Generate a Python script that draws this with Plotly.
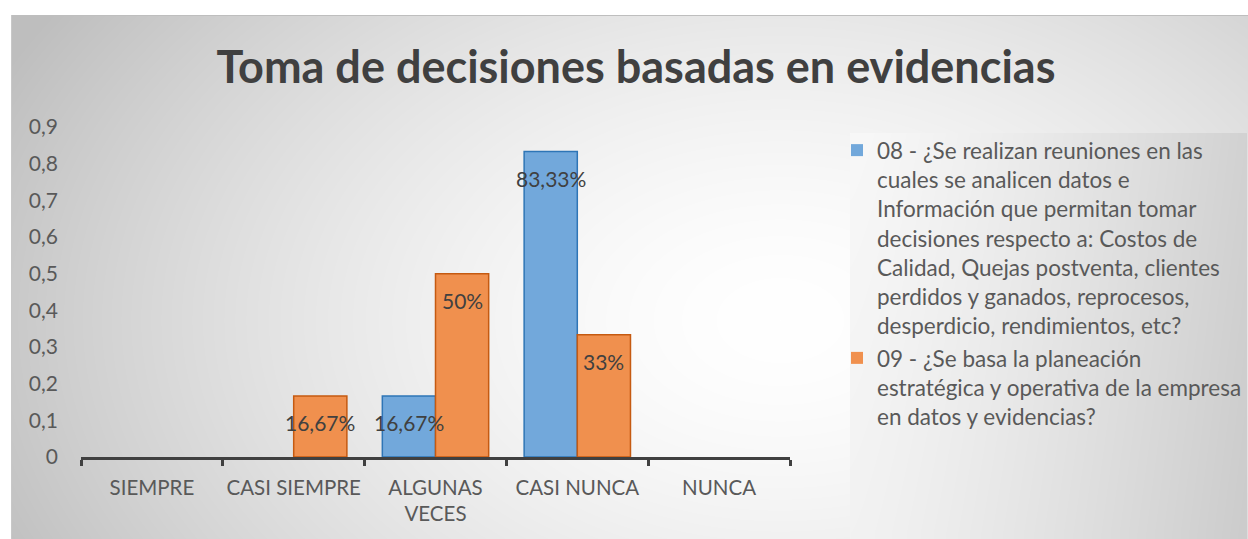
import base64, struct, zlib
import numpy as np
import plotly.graph_objects as go

# ---------------- data ----------------
categories = ["SIEMPRE", "CASI SIEMPRE", "ALGUNAS<br>VECES", "CASI NUNCA", "NUNCA"]
serie_08 = [0, 0, 0.1667, 0.8333, 0]
serie_09 = [0, 0.1667, 0.5, 0.3333, 0]
labels_08 = ["", "", "16,67%", "83,33%", ""]
labels_09 = ["", "16,67%", "50%", "33%", ""]
name_08 = ("08 - ¿Se realizan reuniones en las<br>cuales se analicen datos e<br>"
           "Información que permitan tomar<br>decisiones respecto a: Costos de<br>"
           "Calidad, Quejas postventa, clientes<br>perdidos y ganados, reprocesos,<br>"
           "desperdicio, rendimientos, etc?")
name_09 = ("09 - ¿Se basa la planeación<br>estratégica y operativa de la empresa<br>"
           "en datos y evidencias?")
title_text = "Toma de decisiones basadas en evidencias"
y_ticks = [0, 0.1, 0.2, 0.3, 0.4, 0.5, 0.6, 0.7, 0.8, 0.9]

W, H = 1248, 539
L, R, T, B = 81, 458, 127, 82
PW, PH = W - L - R, H - T - B

# ---------------- background gradient (PNG) ----------------
X0, Y0 = 11, 15
iw, ih = W - X0, H - Y0
xs = np.arange(X0, W)[None, :].astype(float)
ys = np.arange(Y0, H)[:, None].astype(float)
d = np.sqrt(((xs - 780) / 780) ** 2 + ((ys - 320) / 520) ** 2)
d = np.clip(d, 0, 1.1)
img = 255 - 55 * (d ** 1.6)
# legend box
lx0, ly0, lx1 = 850, 133, 1246
mask = (xs >= lx0) & (xs <= lx1) & (ys >= ly0)
t = np.clip((xs - lx0) / (lx1 - lx0), 0, 1)
leg = 248 - 38 * (t ** 1.3) - 6 * np.clip((ys - ly0) / 400, 0, 1)
img = np.where(mask, leg, img)
img = np.clip(img, 0, 255).astype(np.uint8)
img[0, :] = 190
img[:, 0] = 200

def png_gray(a):
    h, w = a.shape
    raw = b"".join(b"\x00" + a[i].tobytes() for i in range(h))
    def chunk(tag, data):
        c = struct.pack(">I", len(data)) + tag + data
        return c + struct.pack(">I", zlib.crc32(tag + data) & 0xffffffff)
    return (b"\x89PNG\r\n\x1a\n" + chunk(b"IHDR", struct.pack(">IIBBBBB", w, h, 8, 0, 0, 0, 0))
            + chunk(b"IDAT", zlib.compress(raw, 9)) + chunk(b"IEND", b""))

src = "data:image/png;base64," + base64.b64encode(png_gray(img)).decode()

# ---------------- figure ----------------
FONT = "Lato"
fig = go.Figure()
fig.add_trace(go.Bar(x=categories, y=serie_08, name=name_08,
                     marker=dict(color="#72A8DB",
                                 line=dict(color="#2E75B6", width=[1.5 if v else 0 for v in serie_08]))))
fig.add_trace(go.Bar(x=categories, y=serie_09, name=name_09,
                     marker=dict(color="#F0904E",
                                 line=dict(color="#C55A11", width=[1.5 if v else 0 for v in serie_09]))))

bar_px = PW / len(categories) * 0.75 / 2
annots = []
for vals, labs, sh in ((serie_08, labels_08, -bar_px / 2), (serie_09, labels_09, bar_px / 2)):
    for c, v, lab in zip(categories, vals, labs):
        if lab:
            annots.append(dict(x=c, y=v, xref="x", yref="y", text=lab, showarrow=False,
                               xshift=sh, yshift=-27, yanchor="middle",
                               font=dict(family=FONT, size=21, color="#404040")))

fig.update_layout(
    width=W, height=H,
    margin=dict(l=L, r=R, t=T, b=B, pad=0, autoexpand=False),
    paper_bgcolor="white", plot_bgcolor="rgba(0,0,0,0)",
    separators=",.",
    barmode="group", bargap=0.25, bargroupgap=0,
    title=dict(text=title_text, x=636 / W, xref="container", xanchor="center",
               y=1 - 67 / H, yref="container", yanchor="middle",
               font=dict(family=FONT, size=45, color="#404040", weight="bold")),
    font=dict(family=FONT, color="#595959"),
    legend=dict(x=(837 - L) / PW, y=(H - B - 129) / PH, xanchor="left", yanchor="top",
                bgcolor="rgba(0,0,0,0)", valign="top", tracegroupgap=0,
                font=dict(family=FONT, size=22.5, color="#595959")),
    annotations=annots,
    images=[dict(source=src, xref="paper", yref="paper",
                 x=(X0 - L) / PW, y=(H - B - Y0) / PH,
                 sizex=iw / PW, sizey=ih / PH, xanchor="left", yanchor="top",
                 sizing="stretch", layer="below")],
)
fig.update_yaxes(range=[0, 0.9], tickvals=y_ticks, showgrid=False, zeroline=False,
                 showline=False, ticks="", ticklabelstandoff=22, automargin=False,
                 tickfont=dict(family=FONT, size=21, color="#595959"))
fig.update_xaxes(showgrid=False, showline=True, linecolor="#404040", linewidth=3,
                 ticks="outside", tickson="boundaries", ticklen=6, tickwidth=3,
                 tickcolor="#404040", ticklabelstandoff=10, tickangle=0, automargin=False,
                 tickfont=dict(family=FONT, size=20.5, color="#595959"))

fig.write_html("out.html", config={"displayModeBar": False},
               post_script="document.body.style.margin='0';document.body.style.overflow='hidden';")
